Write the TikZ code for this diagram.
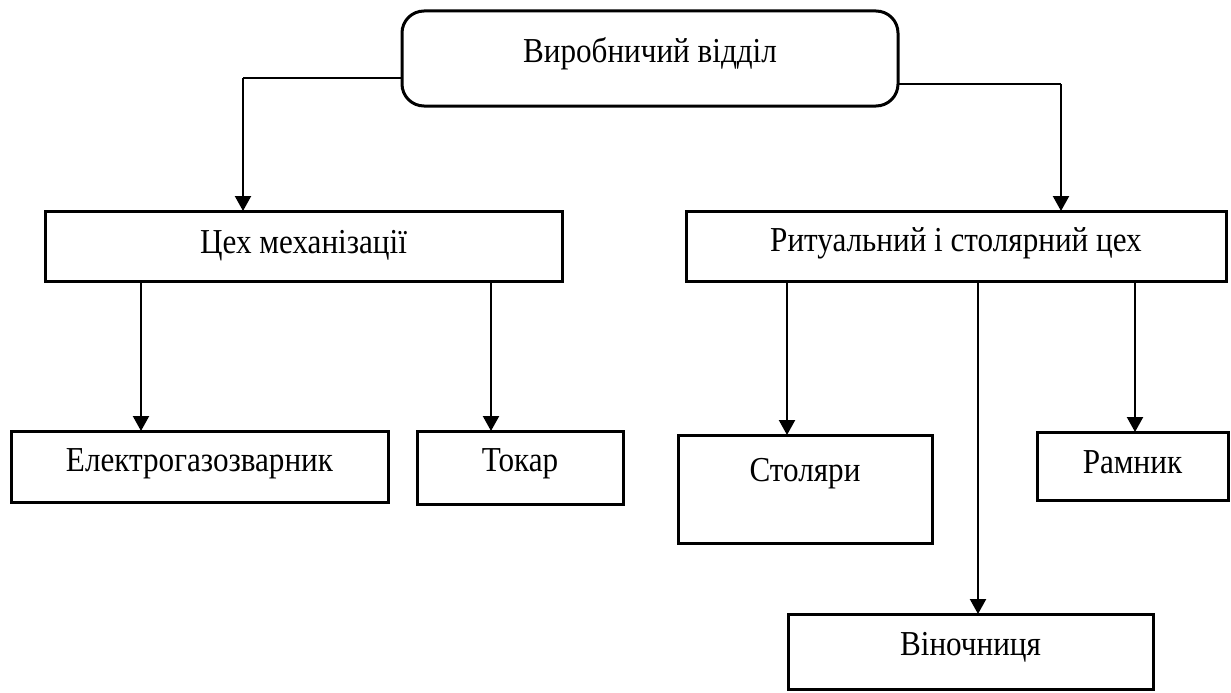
\documentclass[tikz,border=0pt]{standalone}
\usepackage{fontspec}
\setmainfont{Liberation Serif}[FakeStretch=0.89]
\usetikzlibrary{arrows.meta}

\tikzset{
	unit/.style={draw, line width=3pt, inner sep=0pt, outer sep=0pt, align=center, font=\fontsize{35}{40}\selectfont},
	link/.style={line width=1.2pt},
	arrow/.style={line width=2.2pt, -{Triangle[length=15pt,width=16pt]}}
}

\begin{document}
\begin{tikzpicture}[x=1pt,y=-1pt]
			\useasboundingbox (0,0) rectangle (1231,693);
			\node[unit, rounded corners=22pt, minimum width=496pt, text height=52pt, text depth=43pt] (dept) at (650,58.5) {Виробничий відділ};
			\node[unit, minimum width=517pt, text height=42pt, text depth=28pt] (mech) at (303.5,246) {Цех механізації};
			\node[unit, minimum width=540pt, text height=40pt, text depth=30pt] (ritual) at (956,246) {Ритуальний і столярний цех};
			\node[unit, minimum width=377pt, text height=40pt, text depth=31pt] (welder) at (199.5,466.5) {Електрогазозварник};
			\node[unit, minimum width=206pt, text height=40pt, text depth=33pt] (turner) at (520,467.5) {Токар};
			\node[unit, minimum width=254pt, text height=46pt, text depth=62pt] (joiners) at (805,489) {Столяри};
			\node[unit, minimum width=191pt, text height=41pt, text depth=27pt] (framer) at (1132.5,466) {Рамник};
			\node[unit, minimum width=365pt, text height=41pt, text depth=34pt] (wreath) at (970.5,651.5) {Віночниця};
			\coordinate (kl) at (243,78);
			\coordinate (kr) at (1061,84);
			\draw[link] ([yshift=-19.5pt]dept.west) -- (kl);
			\draw[arrow] (kl) -- (kl |- mech.north);
			\draw[link] ([yshift=-25.5pt]dept.east) -- (kr);
			\draw[arrow] (kr) -- (kr |- ritual.north);
			\draw[arrow] ([xshift=-162.5pt]mech.south) -- ([xshift=-162.5pt]mech.south |- welder.north);
			\draw[arrow] ([xshift=187.5pt]mech.south) -- ([xshift=187.5pt]mech.south |- turner.north);
			\draw[arrow] ([xshift=-169pt]ritual.south) -- ([xshift=-169pt]ritual.south |- joiners.north);
			\draw[arrow] ([xshift=22pt]ritual.south) -- ([xshift=22pt]ritual.south |- wreath.north);
			\draw[arrow] ([xshift=179pt]ritual.south) -- ([xshift=179pt]ritual.south |- framer.north);
		\end{tikzpicture}
\end{document}
